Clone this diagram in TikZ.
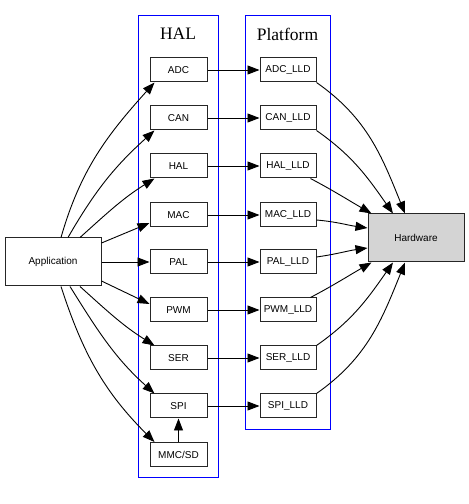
\documentclass[tikz,border=0pt]{standalone}
\usepackage{fontspec}
\setmainfont{Liberation Serif}
\setsansfont{Liberation Sans}
\usetikzlibrary{arrows.meta}
\begin{document}
\begin{tikzpicture}[x=1pt,y=1pt,
  box/.style={draw=black!85, line width=1pt, minimum width=57pt, minimum height=24pt, inner sep=0pt, font=\sffamily\fontsize{10}{12}\selectfont},
  bigbox/.style={box, minimum width=96pt, minimum height=48pt},
  cluster/.style={draw=blue, line width=0.9pt},
  title/.style={font=\fontsize{17.5}{20}\selectfont},
  edge/.style={line width=0.9pt, -{Triangle[length=12pt,width=9pt]}}]
\useasboundingbox (0,0) rectangle (469,504);
% clusters
\draw[cluster] (138.5,27) rectangle (218,488.5);
\draw[cluster] (245,75) rectangle (330,488.5);
\node[title] (thal) at (178,470) {HAL};
\node[title] (tplat) at (287.5,470) {Platform};
% HAL nodes
\node[box] (adc) at (178.5,434) {ADC};
\node[box] (can) at (178.5,386) {CAN};
\node[box] (hal) at (178.5,338) {HAL};
\node[box] (mac) at (178.5,289) {MAC};
\node[box] (pal) at (178.5,242) {PAL};
\node[box] (pwm) at (178.5,194) {PWM};
\node[box] (ser) at (178.5,146) {SER};
\node[box] (spi) at (178.5,98) {SPI};
\node[box] (mmc) at (178.5,49.5) {MMC/SD};
% LLD nodes
\node[box, minimum width=56pt] (adcl) at (288,434) {ADC\_LLD};
\node[box, minimum width=56pt] (canl) at (288,386) {CAN\_LLD};
\node[box, minimum width=56pt] (hall) at (288,338) {HAL\_LLD};
\node[box, minimum width=56pt] (macl) at (288,289) {MAC\_LLD};
\node[box, minimum width=56pt] (pall) at (288,242) {PAL\_LLD};
\node[box, minimum width=56pt] (pwml) at (288,194) {PWM\_LLD};
\node[box, minimum width=56pt] (serl) at (288,146) {SER\_LLD};
\node[box, minimum width=56pt] (spil) at (288,98) {SPI\_LLD};
% app and hw
\node[bigbox] (app) at (53,242) {Application};
\node[bigbox, fill=black!17] (hw) at (416,266) {Hardware};
% app -> HAL
\draw[edge] ([xshift=8pt]app.north) to[out=74,in=228] ([xshift=-24pt]adc.south);
\draw[edge] ([xshift=15pt]app.north) to[out=60,in=222] ([xshift=-24pt]can.south);
\draw[edge] ([xshift=27pt]app.north) to[out=42,in=212] ([xshift=-24pt]hal.south);
\draw[edge] ([yshift=19pt]app.east) -- ([yshift=-8pt]mac.west);
\draw[edge] (app.east) -- (pal.west);
\draw[edge] ([yshift=-19pt]app.east) -- ([yshift=6pt]pwm.west);
\draw[edge] ([xshift=27pt]app.south) to[out=-42,in=148] ([xshift=-24pt]ser.north);
\draw[edge] ([xshift=17pt]app.south) to[out=-58,in=138] ([xshift=-24pt]spi.north);
\draw[edge] ([xshift=8pt]app.south) to[out=-72,in=135] ([xshift=-24pt]mmc.north);
\draw[edge] (mmc) -- (spi);
% HAL -> LLD
\draw[edge] (adc) -- (adcl);
\draw[edge] (can) -- (canl);
\draw[edge] (hal) -- (hall);
\draw[edge] (mac) -- (macl);
\draw[edge] (pal) -- (pall);
\draw[edge] (pwm) -- (pwml);
\draw[edge] (ser) -- (serl);
\draw[edge] (spi) -- (spil);
% LLD -> hw
\draw[edge] (adcl.south east) to[out=-35,in=112] ([xshift=-11pt]hw.north);
\draw[edge] (canl.south east) to[out=-35,in=125] ([xshift=-23pt]hw.north);
\draw[edge] ([xshift=-6pt]hall.south east) to[out=-28,in=150] ([xshift=4pt]hw.north west);
\draw[edge] ([yshift=-5pt]macl.east) to[out=-5,in=172] ([yshift=10pt]hw.west);
\draw[edge] ([yshift=5pt]pall.east) to[out=8,in=188] ([yshift=-10pt]hw.west);
\draw[edge] ([xshift=-6pt]pwml.north east) to[out=28,in=210] ([xshift=4pt]hw.south west);
\draw[edge] (serl.north east) to[out=35,in=235] ([xshift=-23pt]hw.south);
\draw[edge] (spil.north east) to[out=35,in=248] ([xshift=-11pt]hw.south);
\end{tikzpicture}
\end{document}
